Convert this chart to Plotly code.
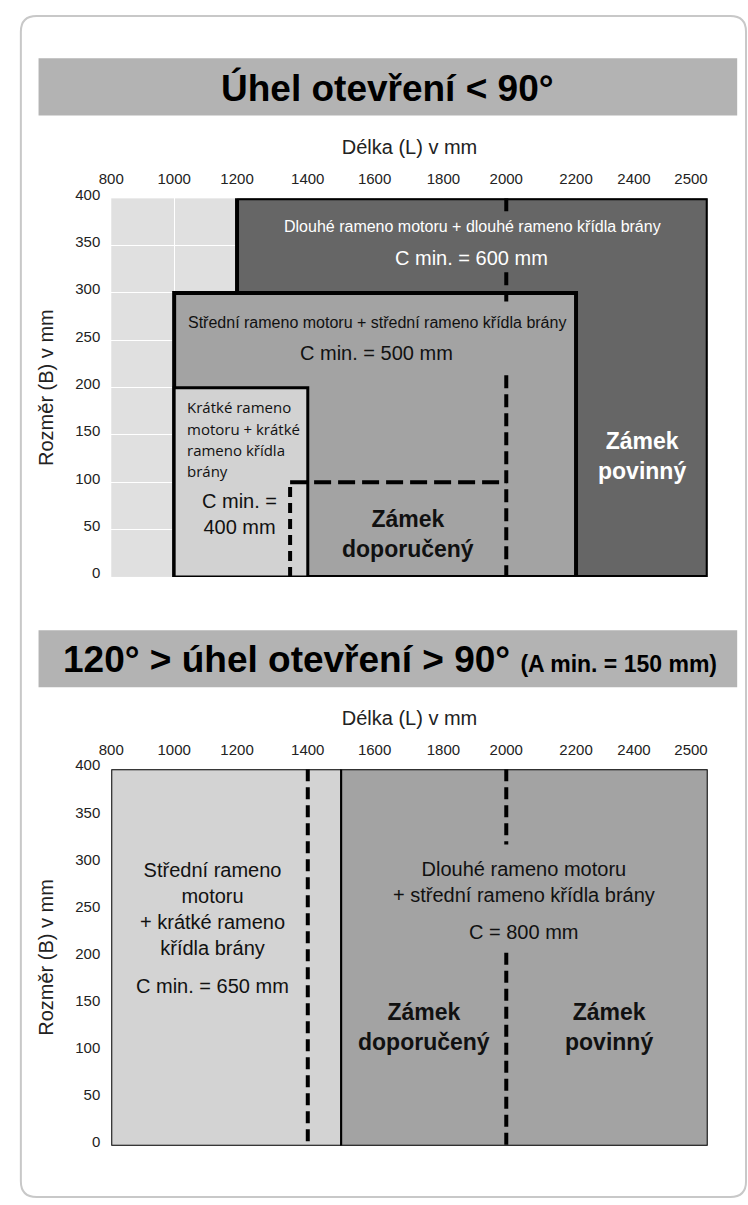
import numpy as np
import plotly.graph_objects as go

W, H = 748, 1205

# ---- printed scales -------------------------------------------------------
L_TICKS = [800, 1000, 1200, 1400, 1600, 1800, 2000, 2200, 2400, 2500]   # length L (mm)
B_TICKS = [0, 50, 100, 150, 200, 250, 300, 350, 400]                     # dimension B (mm)

# ---- chart 1: opening angle < 90° ----------------------------------------
ARM_LONG_L = [1200, None]          # None -> runs to the right edge of the chart
ARM_LONG_B = [0, 400]
ARM_MID_L = [1000, 2200]
ARM_MID_B = [0, 300]
ARM_SHORT_L = [1000, 1400]
ARM_SHORT_B = [0, 200]
LOCK_REC_L = [1350, 2000]          # dashed zone "lock recommended"
LOCK_REC_B = [0, 100]
LOCK_LIMIT_L = 2000                # dashed limit line

# ---- chart 2: 120° > opening angle > 90° ---------------------------------
ZONE_A_L = [None, 1500]            # None -> starts at the left edge
ZONE_B_L = [1500, None]
ZONE_B_RANGE = [0, 400]
LIMIT2_A = 1400
LIMIT2_B = 2000

# ---- layout helpers -------------------------------------------------------
PLOT_LEFT, PLOT_RIGHT = 100, 707
TICK_OFFSET = [0, 64, 128, 200, 268, 338, 402, 473, 532, 590]   # printed tick spacing (px)
X_RANGE = [0, PLOT_RIGHT - PLOT_LEFT]

TOP_Y = (188, 572)
BOT_Y = (767, 1149)


def lx(v, default):
    if v is None:
        return default
    return float(np.interp(v, L_TICKS, TICK_OFFSET))


def px(x):
    return x / W


def py(y):
    return 1 - y / H


SANS = "Liberation Sans, Arial, sans-serif"
HUMAN = "Open Sans, Noto Sans, sans-serif"

fig = go.Figure()
# invisible anchors so both subplots exist
fig.add_trace(go.Scatter(x=[None], y=[None], xaxis="x", yaxis="y", showlegend=False))
fig.add_trace(go.Scatter(x=[None], y=[None], xaxis="x2", yaxis="y2", showlegend=False))

shapes = []

# card outline with rounded corners
cx0, cy0, cx1, cy1, r = 8, 3, 746, 1201, 16
path = (f"M {px(cx0 + r)},{py(cy0)} L {px(cx1 - r)},{py(cy0)} "
        f"Q {px(cx1)},{py(cy0)} {px(cx1)},{py(cy0 + r)} L {px(cx1)},{py(cy1 - r)} "
        f"Q {px(cx1)},{py(cy1)} {px(cx1 - r)},{py(cy1)} L {px(cx0 + r)},{py(cy1)} "
        f"Q {px(cx0)},{py(cy1)} {px(cx0)},{py(cy1 - r)} L {px(cx0)},{py(cy0 + r)} "
        f"Q {px(cx0)},{py(cy0)} {px(cx0 + r)},{py(cy0)} Z")
shapes.append(dict(type="path", xref="paper", yref="paper", path=path,
                   line=dict(color="#c8c8c8", width=2), layer="below"))

# title bands
for y0, y1 in [(46, 104), (626, 684)]:
    shapes.append(dict(type="rect", xref="paper", yref="paper",
                       x0=px(26), x1=px(737), y0=py(y1), y1=py(y0),
                       fillcolor="#b3b3b3", line=dict(width=0), layer="below"))


def zone(xr, yr, L, B, fill, lw):
    shapes.append(dict(type="rect", xref=xr, yref=yr,
                       x0=lx(L[0], X_RANGE[0]), x1=lx(L[1], X_RANGE[1]),
                       y0=B[0], y1=B[1], fillcolor=fill,
                       line=dict(color="black", width=lw)))


def dashed(xr, yr, x0, x1, y0, y1, dash, w=4):
    shapes.append(dict(type="line", xref=xr, yref=yr, x0=x0, x1=x1, y0=y0, y1=y1,
                       line=dict(color="black", width=w, dash=dash)))


# chart 1 zones
zone("x", "y", ARM_LONG_L, ARM_LONG_B, "#666666", 4)
zone("x", "y", ARM_MID_L, ARM_MID_B, "#a3a3a3", 4)
zone("x", "y", ARM_SHORT_L, ARM_SHORT_B, "#d2d2d2", 3)

xl = lx(LOCK_REC_L[0], 0)
xr_ = lx(LOCK_REC_L[1], 0)
dashed("x", "y", xl, xl, LOCK_REC_B[0], LOCK_REC_B[1], "10px,6px")
dashed("x", "y", xl, xr_, LOCK_REC_B[1], LOCK_REC_B[1], "17px,7px")
xlim = lx(LOCK_LIMIT_L, 0)
for b0, b1 in [(400, 385), (322, 291), (213, 0)]:
    dashed("x", "y", xlim, xlim, b0, b1, "13px,6px")

# chart 2 zones
zone("x2", "y2", ZONE_A_L, ZONE_B_RANGE, "#d3d3d3", 2)
zone("x2", "y2", ZONE_B_L, ZONE_B_RANGE, "#a3a3a3", 2)
xa = lx(LIMIT2_A, 0)
dashed("x2", "y2", xa, xa, 400, 0, "12px,6px")
xb = lx(LIMIT2_B, 0)
for b0, b1 in [(400, 320), (205, 0)]:
    dashed("x2", "y2", xb, xb, b0, b1, "12px,6px")

annotations = []


def label(x, y, text, size, family, color="#111111", bold=False, xanchor="center", align="center"):
    if bold:
        text = f"<b>{text.replace('<br>', '</b><br><b>')}</b>"
    annotations.append(dict(xref="paper", yref="paper", x=px(x), y=py(y), text=text,
                            showarrow=False, xanchor=xanchor, yanchor="middle", align=align,
                            font=dict(size=size, family=family, color=color)))


# titles
label(381, 76, "Úhel otevření < 90°", 37, SANS, "black", bold=True)
label(384, 656, "120° > úhel otevření > 90° <span style='font-size:23px'>(A min. = 150 mm)</span>",
      37, SANS, "black", bold=True)

# chart 1 texts
label(468, 217, "Dlouhé rameno motoru + dlouhé rameno křídla brány", 16, SANS, "white")
label(467, 248, "C min. = 600 mm", 20, SANS, "white")
label(370, 314, "Střední rameno motoru + střední rameno křídla brány", 16, SANS)
label(370, 345, "C min. = 500 mm", 20, SANS)
for i, t in enumerate(["Krátké rameno", "motoru + krátké", "rameno křídla", "brány"]):
    label(175, 400 + 21.5 * i, t, 15, HUMAN, xanchor="left", align="left")
label(230, 508, "C min. =<br>400 mm", 20, SANS)
label(402, 528, "Zámek<br>doporučený", 23, SANS, bold=True)
label(640, 449, "Zámek<br>povinný", 23, SANS, "white", bold=True)

# chart 2 texts
label(203, 909, "Střední rameno<br>motoru<br>+ krátké rameno<br>křídla brány", 20, SANS)
label(203, 987, "C min. = 650 mm", 20, SANS)
label(520, 881, "Dlouhé rameno motoru<br>+ střední rameno křídla brány", 20, SANS)
label(520, 932, "C = 800 mm", 20, SANS)
label(418, 1029, "Zámek<br>doporučený", 23, SANS, bold=True)
label(607, 1029, "Zámek<br>povinný", 23, SANS, bold=True)

tick_pos = [lx(v, 0) for v in L_TICKS]
tick_txt = [str(v) for v in L_TICKS]

xcommon = dict(range=X_RANGE, domain=[px(PLOT_LEFT), px(PLOT_RIGHT)], side="top",
               tickvals=tick_pos, ticktext=tick_txt, ticks="", zeroline=False,
               showline=False, fixedrange=True, ticklabelstandoff=10,
               tickfont=dict(family=SANS, size=15, color="#222222"),
               title=dict(text="Délka (L) v mm", standoff=10,
                          font=dict(family=SANS, size=20, color="#222222")))
ycommon = dict(range=[0, 400], tickvals=B_TICKS, ticks="", zeroline=False, showline=False,
               fixedrange=True, ticklabelstandoff=10, ticklabelshift=-4,
               tickfont=dict(family=SANS, size=15, color="#222222"),
               title=dict(text="Rozměr (B) v mm", standoff=16,
                          font=dict(family=SANS, size=20, color="#222222")))

fig.update_layout(
    width=W, height=H, margin=dict(l=0, r=0, t=0, b=0),
    paper_bgcolor="white", plot_bgcolor="#e0e0e0", showlegend=False,
    xaxis=dict(**xcommon, anchor="y", showgrid=True, gridcolor="white", gridwidth=1),
    yaxis=dict(**ycommon, anchor="x", domain=[py(TOP_Y[1]), py(TOP_Y[0])],
               showgrid=True, gridcolor="white", gridwidth=1),
    xaxis2=dict(**xcommon, anchor="y2", showgrid=False),
    yaxis2=dict(**ycommon, anchor="x2", domain=[py(BOT_Y[1]), py(BOT_Y[0])], showgrid=False),
    shapes=shapes, annotations=annotations,
)

fig.write_html("out.html", config={"displayModeBar": False})
